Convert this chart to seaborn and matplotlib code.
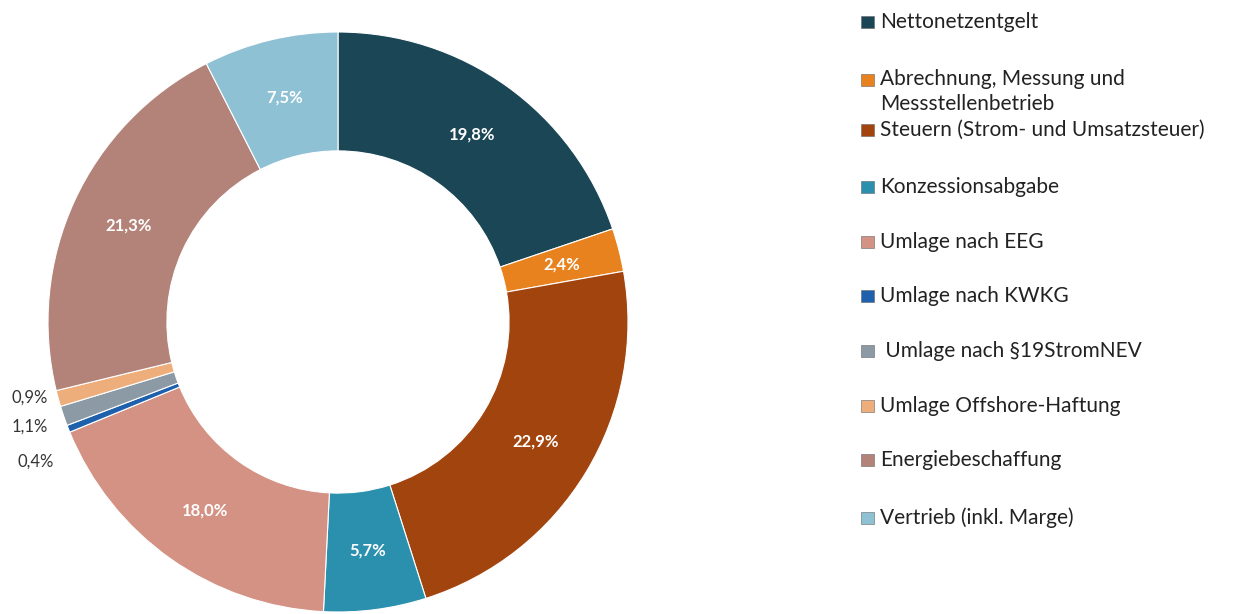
import matplotlib
matplotlib.use("Agg")
import matplotlib.pyplot as plt
import seaborn as sns
import numpy as np
from matplotlib.patches import Rectangle

categories = ["Nettonetzentgelt", "Abrechnung, Messung und\nMessstellenbetrieb",
              "Steuern (Strom- und Umsatzsteuer)", "Konzessionsabgabe", "Umlage nach EEG",
              "Umlage nach KWKG", " Umlage nach §19StromNEV", "Umlage Offshore-Haftung",
              "Energiebeschaffung", "Vertrieb (inkl. Marge)"]
values = [19.8, 2.4, 22.9, 5.7, 18.0, 0.4, 1.1, 0.9, 21.3, 7.5]
colors = ["#1b4656", "#e8821f", "#a2440e", "#2b8fae", "#d39284",
          "#1f60ad", "#8b9aa4", "#eeae7c", "#b3837a", "#8fc1d5"]
outside = [False, False, False, False, False, True, True, True, False, False]

sns.set_theme(style="white")
plt.rcParams['font.family'] = ['Lato', 'DejaVu Sans']

W, H = 1238, 614
fig = plt.figure(figsize=(W / 100, H / 100), dpi=100)
cx, cy, R = 338, 322, 290
ax = fig.add_axes([(cx - R) / W, (H - cy - R) / H, 2 * R / W, 2 * R / H])
wedges, _ = ax.pie(values, colors=colors, startangle=90, counterclock=False,
                   radius=1.0, wedgeprops=dict(width=0.41, edgecolor="white", linewidth=0.8))
ax.set_xlim(-1, 1)
ax.set_ylim(-1, 1)
ax.set_aspect("equal")
ax.axis("off")

out_pos = {5: (36, 462), 6: (30, 427), 7: (30, 398)}
for i, (v, w) in enumerate(zip(values, wedges)):
    lbl = f"{v:.1f}%".replace(".", ",")
    if outside[i]:
        px, py = out_pos[i]
        fig.text(px / W, 1 - py / H, lbl, ha="center", va="center",
                 fontsize=12, color="#333333")
    else:
        ang = np.deg2rad((w.theta1 + w.theta2) / 2)
        r = 0.795
        ax.text(r * np.cos(ang), r * np.sin(ang), lbl, ha="center", va="center",
                fontsize=12, color="white", fontweight="bold")

legend_y = [22, 80, 130, 187, 242, 296, 351, 406, 460, 518]
for cat, col, y in zip(categories, colors, legend_y):
    fig.patches.append(Rectangle((861 / W, 1 - (y + 6) / H), 13 / W, 12 / H,
                                 transform=fig.transFigure, facecolor=col,
                                 edgecolor="#666666", linewidth=0.4))
    if "\n" in cat:
        fig.text(880 / W, 1 - (y - 11) / H, cat, ha="left", va="top",
                 fontsize=15, color="#222222", linespacing=1.3)
    else:
        fig.text(880 / W, 1 - y / H, cat, ha="left", va="center",
                 fontsize=15, color="#222222")

fig.savefig("out.png", dpi=100, facecolor="white")
